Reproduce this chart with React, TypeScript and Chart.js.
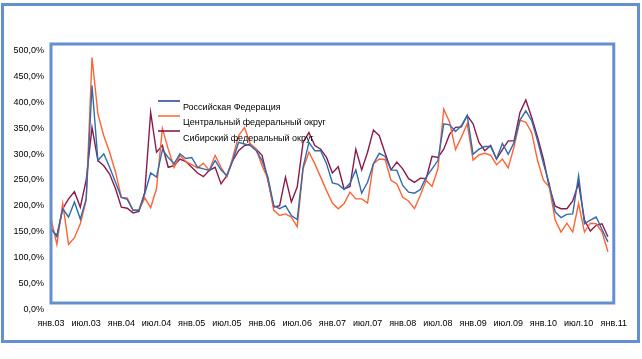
import React, { useEffect, useRef } from 'react';
import { Chart, registerables } from 'chart.js';

Chart.register(...registerables);

const seriesNames = [
  'Российская Федерация',
  'Центральный федеральный округ',
  'Сибирский федеральный округ',
];

const tickLabels = [
  'янв.03', 'июл.03', 'янв.04', 'июл.04', 'янв.05', 'июл.05', 'янв.06', 'июл.06',
  'янв.07', 'июл.07', 'янв.08', 'июл.08', 'янв.09', 'июл.09', 'янв.10', 'июл.10', 'янв.11',
];

const monthShort = ['янв', 'фев', 'мар', 'апр', 'май', 'июн', 'июл', 'авг', 'сен', 'окт', 'ноя', 'дек'];
const categories: string[] = [];
for (let y = 3; y <= 11; y++) {
  for (let m = 0; m < 12; m++) {
    if (y === 11 && m > 0) break;
    categories.push(monthShort[m] + '.' + String(y).padStart(2, '0'));
  }
}

const russia = [
  145, 128, 182, 166, 195, 162, 201, 420, 275, 288, 262, 233, 204, 200, 179, 179, 211, 251, 243, 296, 281, 269, 288, 279,
  281, 262, 259, 256, 275, 257, 246, 275, 310, 307, 304, 294, 275, 243, 188, 182, 188, 169, 161, 262, 310, 294, 294, 269,
  232, 229, 219, 231, 257, 212, 233, 269, 289, 283, 257, 256, 227, 214, 212, 219, 243, 259, 275, 346, 344, 331, 342, 362,
  287, 297, 302, 302, 278, 308, 287, 310, 353, 371, 352, 313, 269, 230, 176, 165, 171, 172, 246, 153, 160, 166, 142, 118,
];

const central = [
  163, 113, 192, 113, 126, 153, 198, 474, 365, 323, 291, 253, 204, 203, 179, 179, 203, 184, 221, 337, 297, 262, 285, 273,
  267, 261, 270, 256, 285, 262, 243, 281, 323, 339, 307, 297, 265, 240, 179, 169, 172, 166, 147, 259, 291, 269, 243, 217,
  193, 182, 192, 214, 201, 201, 193, 269, 278, 277, 237, 230, 204, 197, 182, 208, 237, 225, 259, 374, 349, 296, 320, 346,
  276, 286, 289, 285, 267, 278, 261, 302, 353, 349, 329, 275, 237, 224, 160, 137, 154, 137, 192, 137, 154, 153, 137, 99,
];

const siberian = [
  143, 130, 182, 201, 215, 185, 237, 339, 275, 265, 249, 221, 185, 183, 174, 177, 214, 368, 291, 304, 262, 265, 278, 273,
  262, 251, 244, 256, 262, 230, 246, 275, 294, 304, 307, 297, 285, 237, 185, 188, 243, 195, 224, 310, 329, 304, 297, 281,
  251, 263, 220, 225, 297, 257, 291, 334, 323, 289, 257, 272, 259, 240, 233, 241, 240, 283, 281, 297, 326, 339, 340, 362,
  346, 310, 294, 304, 278, 296, 313, 313, 368, 392, 358, 320, 278, 224, 187, 182, 182, 197, 231, 160, 139, 150, 153, 128,
];

const colors = ['#2F6CAE', '#FF6333', '#8B1A4B'];
const legendLineColors = ['#1F3F94', '#FF6333', '#7A1040'];
const frameColor = '#6590D0';
const FONT = '"Liberation Sans", Arial, sans-serif';

const plotFramePlugin = {
  id: 'plotFrame',
  afterDraw(chart: any) {
    const { ctx, chartArea } = chart;
    ctx.save();
    ctx.strokeStyle = frameColor;
    ctx.lineWidth = 3;
    ctx.strokeRect(chartArea.left, chartArea.top, chartArea.right - chartArea.left, chartArea.bottom - chartArea.top);
    // legend
    ctx.font = '9px ' + FONT;
    ctx.textBaseline = 'middle';
    ctx.textAlign = 'left';
    const lineY = [101, 116, 131];
    const textY = [108, 123, 138.5];
    for (let i = 0; i < seriesNames.length; i++) {
      ctx.strokeStyle = legendLineColors[i];
      ctx.lineWidth = 1.5;
      ctx.beginPath();
      ctx.moveTo(158, lineY[i]);
      ctx.lineTo(180, lineY[i]);
      ctx.stroke();
      ctx.fillStyle = '#000';
      ctx.fillText(seriesNames[i], 183, textY[i]);
    }
    ctx.restore();
  },
};

export default function App() {
  const canvasRef = useRef<HTMLCanvasElement | null>(null);

  useEffect(() => {
    if (!canvasRef.current) return;
    Chart.defaults.font.family = FONT;
    Chart.defaults.font.size = 9;
    Chart.defaults.color = '#000';
    const seriesData = [russia, central, siberian];
    const chart = new Chart(canvasRef.current, {
      type: 'line',
      data: {
        labels: categories,
        datasets: seriesNames.map((name, i) => ({
          label: name,
          data: seriesData[i],
          borderColor: colors[i],
          backgroundColor: colors[i],
          borderWidth: 1.4,
          pointRadius: 0,
          tension: 0,
          fill: false,
        })),
      },
      options: {
        responsive: false,
        animation: false,
        maintainAspectRatio: false,
        layout: { padding: { left: 0, top: 44, right: 21, bottom: 26 } },
        plugins: {
          legend: { display: false },
          tooltip: { enabled: false },
          title: { display: false },
        },
        scales: {
          x: {
            type: 'category',
            offset: false,
            grid: { display: false, drawTicks: false },
            border: { display: false },
            ticks: {
              autoSkip: false,
              maxRotation: 0,
              minRotation: 0,
              padding: 15,
              font: { size: 9, family: FONT },
              color: '#000',
              callback: (_v: any, idx: number) => (idx % 6 === 0 ? tickLabels[idx / 6] : null),
            },
            afterFit: (scale: any) => {
              scale.height = 30;
            },
          },
          y: {
            min: 0,
            max: 500,
            grid: { display: false, drawTicks: false },
            border: { display: false },
            ticks: {
              stepSize: 50,
              padding: 7,
              labelOffset: 6.5,
              font: { size: 9, family: FONT },
              color: '#000',
              callback: (v: any) => Number(v).toFixed(1).replace('.', ',') + '%',
            },
            afterFit: (scale: any) => {
              scale.width = 51;
            },
          },
        },
      },
      plugins: [plotFramePlugin],
    });
    return () => chart.destroy();
  }, []);

  return (
    <div style={{ position: 'absolute', left: 0, top: 0, width: 642, height: 359, background: '#fff' }}>
      <div
        style={{
          position: 'absolute',
          left: 1,
          top: 3,
          width: 639,
          height: 340,
          boxSizing: 'border-box',
          border: '3px solid ' + frameColor,
        }}
      />
      <canvas ref={canvasRef} width={642} height={359} style={{ position: 'absolute', left: 0, top: 0 }} />
    </div>
  );
}
